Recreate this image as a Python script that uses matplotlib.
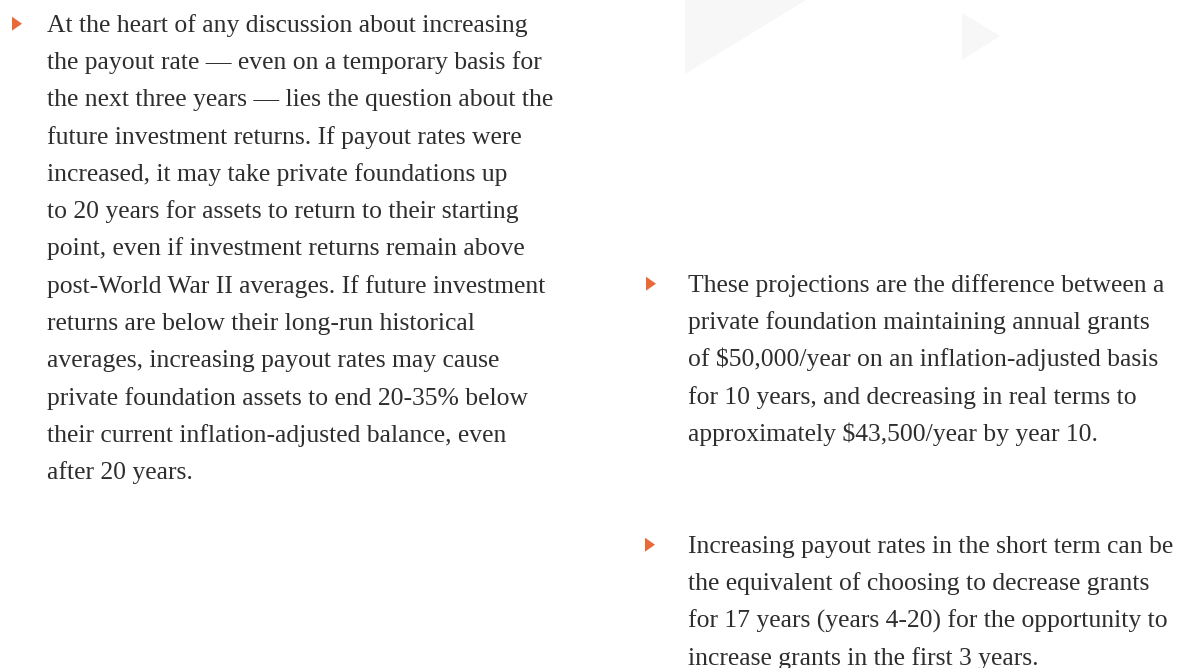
import matplotlib
matplotlib.use("Agg")
import matplotlib.pyplot as plt
from matplotlib.patches import Polygon

# Texto de las tres viñetas, línea por línea
bullet_left = [
    "At the heart of any discussion about increasing",
    "the payout rate \u2014 even on a temporary basis for",
    "the next three years \u2014 lies the question about the",
    "future investment returns. If payout rates were",
    "increased, it may take private foundations up",
    "to 20 years for assets to return to their starting",
    "point, even if investment returns remain above",
    "post-World War II averages. If future investment",
    "returns are below their long-run historical",
    "averages, increasing payout rates may cause",
    "private foundation assets to end 20-35% below",
    "their current inflation-adjusted balance, even",
    "after 20 years.",
]
bullet_right_1 = [
    "These projections are the difference between a",
    "private foundation maintaining annual grants",
    "of $50,000/year on an inflation-adjusted basis",
    "for 10 years, and decreasing in real terms to",
    "approximately $43,500/year by year 10.",
]
bullet_right_2 = [
    "Increasing payout rates in the short term can be",
    "the equivalent of choosing to decrease grants",
    "for 17 years (years 4-20) for the opportunity to",
    "increase grants in the first 3 years.",
]

W, H = 1181, 668
TEXT_COLOR = "#2e2e2e"
ORANGE = "#ea693b"
SHAPE_GRAY = "#f7f7f7"
LINE_H = 37.3
FONT = "Liberation Serif"

fig = plt.figure(figsize=(W / 100, H / 100), dpi=100)
ax = fig.add_axes([0, 0, 1, 1])
ax.set_xlim(0, W)
ax.set_ylim(H, 0)
ax.axis("off")

# Triángulos grises decorativos de fondo
ax.add_patch(Polygon([(685, 0), (806, 0), (685, 74)], closed=True,
                     facecolor=SHAPE_GRAY, edgecolor="none"))
ax.add_patch(Polygon([(962, 13), (1000, 36), (962, 60)], closed=True,
                     facecolor=SHAPE_GRAY, edgecolor="none"))

# Ajustamos el tamaño de letra al ancho de la primera línea
renderer = fig.canvas.get_renderer()
probe = ax.text(0, 0, bullet_left[0], fontsize=10, family=FONT)
w10 = probe.get_window_extent(renderer).width
probe.remove()
fsize = 10 * 481 / w10


def draw_bullet(lines, x_tri, x_text, y_base):
    cy = y_base - 8
    ax.add_patch(Polygon([(x_tri, cy - 7), (x_tri + 10, cy), (x_tri, cy + 7)],
                         closed=True, facecolor=ORANGE, edgecolor="none"))
    for i, line in enumerate(lines):
        ax.text(x_text, y_base + i * LINE_H, line, fontsize=fsize, family=FONT,
                color=TEXT_COLOR, ha="left", va="baseline")


draw_bullet(bullet_left, 12, 47, 31.7)
draw_bullet(bullet_right_1, 646, 688, 291.7)
draw_bullet(bullet_right_2, 645, 688, 552.7)

fig.savefig("out.png", dpi=100, facecolor="white")
plt.close(fig)
